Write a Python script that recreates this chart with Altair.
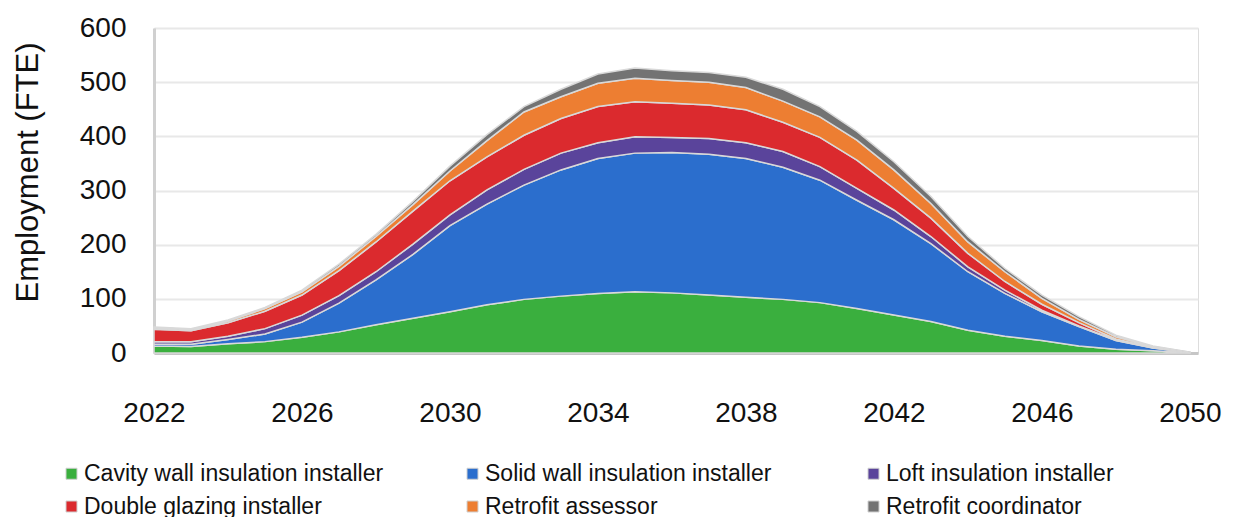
import altair as alt
import pandas as pd

years = list(range(2022, 2051))

series_names = [
    "Cavity wall insulation installer",
    "Solid wall insulation installer",
    "Loft insulation installer",
    "Double glazing installer",
    "Retrofit assessor",
    "Retrofit coordinator",
]

cavity = [13, 12, 17, 21, 29, 39, 52, 64, 76, 89, 99, 105, 110, 113, 111, 107, 103, 99, 93, 82, 70, 58, 42, 31, 23, 13, 7, 4, 0.5]
solid = [3, 4, 8, 14, 28, 53, 83, 118, 159, 186, 211, 233, 249, 256, 259, 260, 256, 244, 226, 200, 176, 144, 108, 79, 53, 36, 16, 5, 0.5]
loft = [5, 5, 6, 10, 13, 14, 15, 19, 20, 26, 29, 31, 29, 30, 28, 29, 29, 29, 25, 22, 18, 13, 9, 6, 3, 1, 1, 0.5, 0.1]
glazing = [23, 20, 25, 32, 37, 46, 55, 61, 63, 61, 63, 64, 67, 65, 63, 62, 61, 54, 54, 52, 40, 34, 25, 16, 11, 6, 2, 0.5, 0.1]
assessor = [2, 2, 3, 5, 6, 8, 10, 12, 18, 30, 43, 40, 43, 43, 42, 42, 41, 39, 38, 37, 34, 27, 21, 18, 11, 6, 4, 2, 0.3]
coordinator = [2, 2, 2, 2, 3, 4, 4, 6, 9, 11, 10, 14, 17, 19, 18, 18, 19, 22, 19, 16, 15, 13, 10, 6, 6, 5, 3, 1, 0.2]

colors = ["#3aaf3e", "#2b6ecd", "#5a449b", "#db2a2e", "#ed7e32", "#737373"]

x_ticks = [2022, 2026, 2030, 2034, 2038, 2042, 2046, 2050]
y_ticks = [0, 100, 200, 300, 400, 500, 600]

series_values = [cavity, solid, loft, glazing, assessor, coordinator]
rows = []
for idx, (name, vals) in enumerate(zip(series_names, series_values)):
    for yr, v in zip(years, vals):
        rows.append({"year": yr, "series": name, "value": v, "order": idx})
df = pd.DataFrame(rows)

FONT = "Liberation Sans"

chart = (
    alt.Chart(df)
    .mark_area(stroke="#d9d9d9", strokeWidth=1.5, opacity=1)
    .encode(
        x=alt.X(
            "year:Q",
            scale=alt.Scale(domain=[2022, 2050.22], nice=False, zero=False),
            axis=alt.Axis(
                values=x_ticks,
                format="d",
                title=None,
                grid=False,
                ticks=False,
                labelFontSize=28,
                labelFont=FONT,
                labelColor="#111111",
                labelPadding=46,
                domainColor="#c6c6c6",
                domainWidth=3,
                labelFlush=False,
            ),
        ),
        y=alt.Y(
            "value:Q",
            stack="zero",
            scale=alt.Scale(domain=[0, 600], nice=False),
            axis=alt.Axis(
                values=y_ticks,
                title="Employment (FTE)",
                titleFontSize=31,
                titleFont=FONT,
                titleFontWeight="normal",
                titleColor="#111111",
                titleAngle=-90,
                titleX=-126,
                titleY=144,
                titleAlign="center",
                titleBaseline="middle",
                grid=True,
                gridColor="#e8e8e8",
                gridWidth=2,
                ticks=False,
                labelFontSize=28,
                labelFont=FONT,
                labelColor="#111111",
                labelPadding=28,
                domainColor="#d0d0d0",
                domainWidth=3,
            ),
        ),
        color=alt.Color(
            "series:N",
            scale=alt.Scale(domain=series_names, range=colors),
            legend=alt.Legend(
                orient="none",
                legendX=-94,
                legendY=434,
                direction="horizontal",
                columns=3,
                gridAlign="all",
                title=None,
                symbolType="square",
                symbolSize=121,
                symbolStrokeColor="#d0d0d0",
                symbolStrokeWidth=1,
                labelFontSize=23,
                labelFont=FONT,
                labelColor="#111111",
                labelOffset=1,
                labelLimit=0,
                columnPadding=77,
                rowPadding=9,
            ),
        ),
        order=alt.Order("order:Q", sort="ascending"),
    )
    .properties(
        width=1044,
        height=325,
        autosize=alt.AutoSizeParams(type="none"),
        padding={"left": 146, "top": 20, "right": 28, "bottom": 164},
    )
    .configure_view(stroke=None)
    .configure(background="white")
)

chart.save("out.html", embed_options={"renderer": "svg", "actions": False})
